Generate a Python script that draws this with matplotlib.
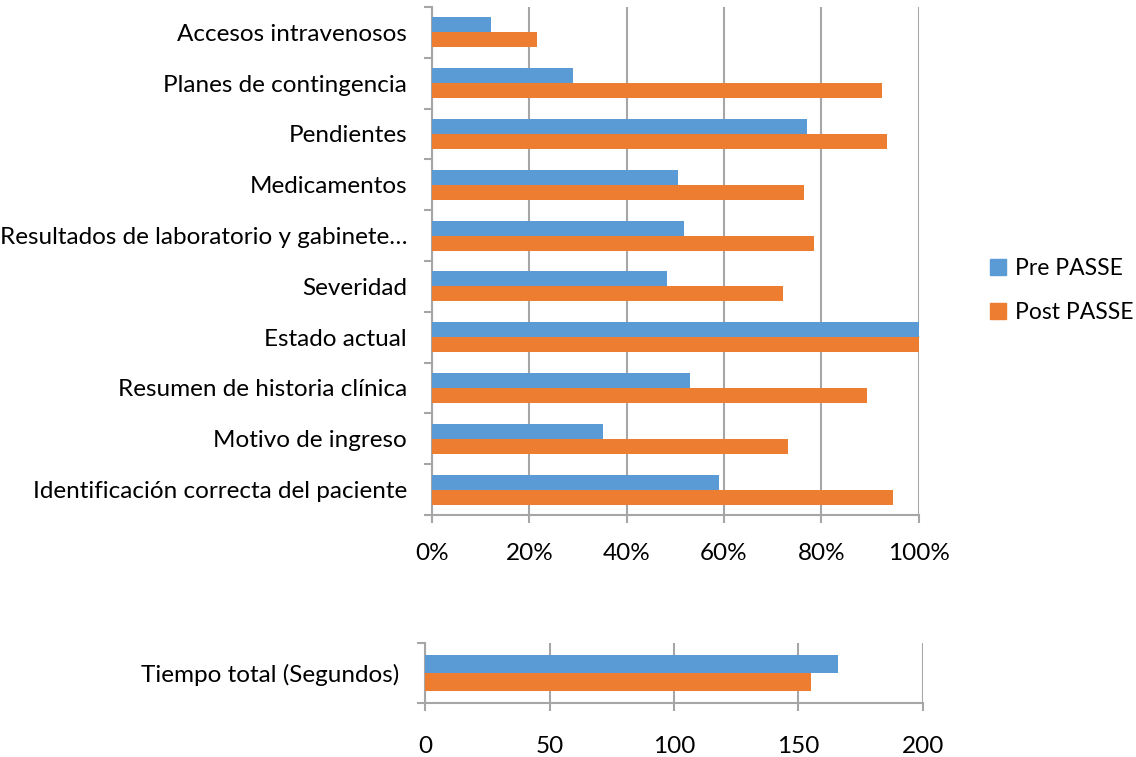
import matplotlib.pyplot as plt
from matplotlib.patches import Rectangle
from matplotlib.ticker import PercentFormatter

plt.rcParams['font.family'] = ['Lato', 'DejaVu Sans']

categories = [
    "Accesos intravenosos",
    "Planes de contingencia",
    "Pendientes",
    "Medicamentos",
    "Resultados de laboratorio y gabinete…",
    "Severidad",
    "Estado actual",
    "Resumen de historia clínica",
    "Motivo de ingreso",
    "Identificación correcta del paciente",
]
pre = [12.1, 29.0, 77.1, 50.5, 51.8, 48.3, 100, 53.0, 35.1, 59.0]
post = [21.6, 92.5, 93.5, 76.4, 78.5, 72.1, 100, 89.4, 73.2, 94.7]

time_label = ["Tiempo total (Segundos)"]
time_pre = [166]
time_post = [155]

blue = "#5B9BD5"
orange = "#ED7D31"
grid_c = "#A6A6A6"
fs = 17.5

fig = plt.figure(figsize=(11.36, 7.57), dpi=100)

ax = fig.add_axes([0.3803, 0.3197, 0.4284, 0.6711])
n = len(categories)
pos = list(range(n))
h = 0.295
ax.barh([p - h / 2 for p in pos], pre, height=h, color=blue, zorder=3)
ax.barh([p + h / 2 for p in pos], post, height=h, color=orange, zorder=3)
ax.set_ylim(n - 0.5, -0.5)
ax.set_xlim(0, 100)
ax.set_xticks(range(0, 101, 20))
ax.xaxis.set_major_formatter(PercentFormatter(decimals=0))
ax.set_yticks([p - 0.5 for p in range(n + 1)])
ax.set_yticklabels([])
ax.set_yticks(pos, minor=True)
ax.set_yticklabels(categories, minor=True, fontsize=fs)
ax.tick_params(axis="y", which="minor", length=0, pad=18)
ax.tick_params(axis="y", which="major", length=6, color=grid_c, width=1.5)
ax.tick_params(axis="x", length=6, color=grid_c, width=1.5, pad=14, labelsize=fs)
ax.grid(axis="x", color=grid_c, linewidth=1.5, zorder=0)
for s in ["top", "right"]:
    ax.spines[s].set_visible(False)
for s in ["left", "bottom"]:
    ax.spines[s].set_color(grid_c)
    ax.spines[s].set_linewidth(1.5)

ax2 = fig.add_axes([0.3744, 0.0717, 0.4379, 0.0793])
h2 = 0.3
ax2.barh([-h2 / 2], time_pre, height=h2, color=blue, zorder=3)
ax2.barh([h2 / 2], time_post, height=h2, color=orange, zorder=3)
ax2.set_ylim(0.5, -0.5)
ax2.set_xlim(0, 200)
ax2.set_xticks(range(0, 201, 50))
ax2.set_yticks([-0.5, 0.5])
ax2.set_yticklabels([])
ax2.set_yticks([0], minor=True)
ax2.set_yticklabels(time_label, minor=True, fontsize=fs)
ax2.tick_params(axis="y", which="minor", length=0, pad=19)
ax2.tick_params(axis="y", which="major", length=6, color=grid_c, width=1.5)
ax2.tick_params(axis="x", length=6, color=grid_c, width=1.5, pad=18, labelsize=fs)
ax2.grid(axis="x", color=grid_c, linewidth=1.5, zorder=0)
for s in ["top", "right"]:
    ax2.spines[s].set_visible(False)
for s in ["left", "bottom"]:
    ax2.spines[s].set_color(grid_c)
    ax2.spines[s].set_linewidth(1.5)

handles = [Rectangle((0, 0), 1, 1, color=blue), Rectangle((0, 0), 1, 1, color=orange)]
fig.legend(handles, ["Pre PASSE", "Post PASSE"], loc="center left",
           bbox_to_anchor=(0.853, 0.616), frameon=False, fontsize=16.5,
           handlelength=0.7, handleheight=0.7, handletextpad=0.4, labelspacing=1.0)

fig.savefig("out.png", dpi=100)
